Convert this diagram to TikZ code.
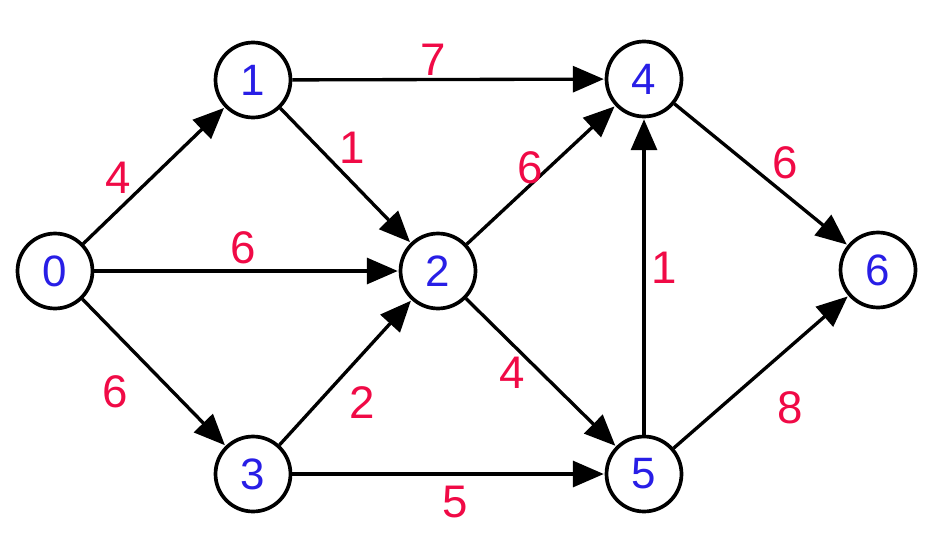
\documentclass[tikz,border=0pt]{standalone}
\usepackage{fontspec}
\setmainfont{Liberation Sans}
\usepackage{tikz}
\usetikzlibrary{arrows.meta}

\definecolor{vblue}{RGB}{40,30,230}
\definecolor{wred}{RGB}{240,10,70}

\begin{document}
\begin{tikzpicture}[x=0.02cm, y=-0.02cm, >={Triangle[length=0.62cm, width=0.52cm]},
    every node/.style={font=\fontsize{25}{30}\selectfont}]
    \tikzstyle{vertex}=[draw, circle, line width=2.1pt, minimum size=1.5cm, inner sep=0pt, text=vblue, fill=white]
    \tikzstyle{edge}=[->, line width=1.9pt, shorten >=0.5pt]
    \tikzstyle{weight}=[text=wred, inner sep=1pt, font=\fontsize{26}{30}\selectfont]

    \useasboundingbox (0,0) rectangle (942,544);

    \node[vertex] (v0) at (55,271) {0};
    \node[vertex] (v1) at (253,80) {1};
    \node[vertex] (v2) at (438,271) {2};
    \node[vertex] (v3) at (253,474) {3};
    \node[vertex] (v4) at (644,79) {4};
    \node[vertex] (v5) at (644,474) {5};
    \node[vertex] (v6) at (878,270) {6};

    \draw[edge] (v0) -- (v1);
    \draw[edge] (v0) -- (v2);
    \draw[edge] (v0) -- (v3);
    \draw[edge] (v1) -- (v4);
    \draw[edge] (v1) -- (v2);
    \draw[edge] (v2) -- (v4);
    \draw[edge] (v2) -- (v5);
    \draw[edge] (v3) -- (v2);
    \draw[edge] (v3) -- (v5);
    \draw[edge] (v5) -- (v4);
    \draw[edge] (v4) -- (v6);
    \draw[edge] (v5) -- (v6);

    \node[weight] (w01) at (118,178) {4};
    \node[weight] (w02) at (243,248) {6};
    \node[weight] (w03) at (115,392) {6};
    \node[weight] (w14) at (433,60) {7};
    \node[weight] (w12) at (352,148) {1};
    \node[weight] (w24) at (530,168) {6};
    \node[weight] (w25) at (512,373) {4};
    \node[weight] (w32) at (362,403) {2};
    \node[weight] (w35) at (455,502) {5};
    \node[weight] (w54) at (664,268) {1};
    \node[weight] (w46) at (785,163) {6};
    \node[weight] (w56) at (790,408) {8};
\end{tikzpicture}
\end{document}
